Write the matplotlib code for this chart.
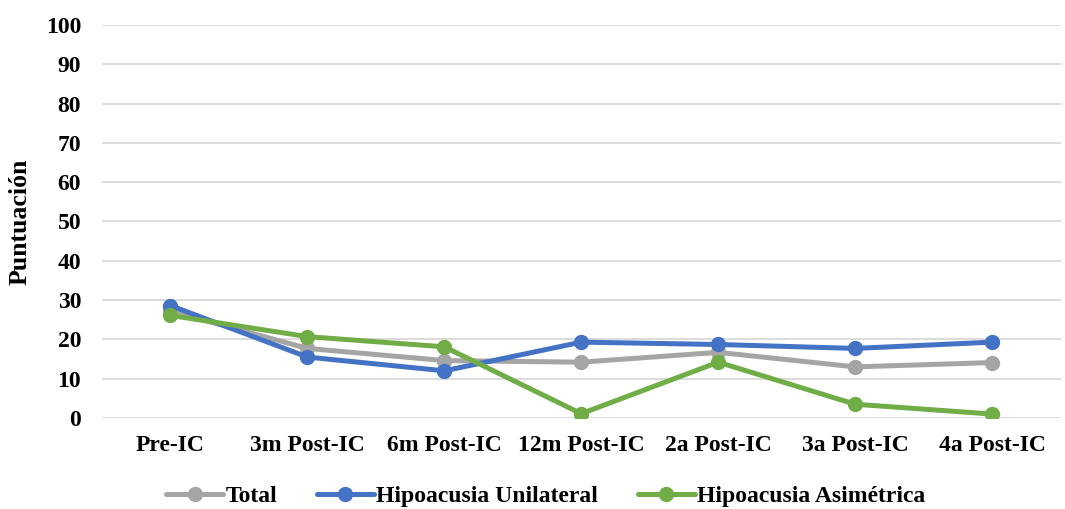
import matplotlib
matplotlib.use("Agg")
import matplotlib.pyplot as plt

categories = ["Pre-IC", "3m Post-IC", "6m Post-IC", "12m Post-IC",
              "2a Post-IC", "3a Post-IC", "4a Post-IC"]
total = [27.2, 17.7, 14.6, 14.2, 16.7, 13.0, 14.1]
unilateral = [28.6, 15.5, 12.0, 19.3, 18.7, 17.7, 19.3]
asimetrica = [26.1, 20.7, 18.1, 1.1, 14.2, 3.5, 1.0]

series = [
    ("Total", total, "#A5A5A5"),
    ("Hipoacusia Unilateral", unilateral, "#4472C4"),
    ("Hipoacusia Asimétrica", asimetrica, "#70AD47"),
]

plt.rcParams["font.family"] = ["Liberation Serif", "DejaVu Serif"]
plt.rcParams["font.weight"] = "bold"

fig = plt.figure(figsize=(10.65, 5.09), dpi=100)
ax = fig.add_axes([0.0958, 0.1788, 0.9, 0.7722])

x = list(range(len(categories)))
for name, vals, color in series:
    ax.plot(x, vals, color=color, linewidth=3.6, marker="o", markersize=10,
            label=name, solid_capstyle="round", zorder=3)

ax.set_xlim(-0.5, len(categories) - 0.5)
ax.set_ylim(0, 100)
ax.set_yticks(range(0, 101, 10))
ax.set_xticks(x)
ax.set_xticklabels(categories, fontsize=17, fontweight="bold")
for lbl in ax.get_yticklabels():
    lbl.set_fontsize(17)
    lbl.set_fontweight("bold")
ax.tick_params(axis="both", length=0)
ax.tick_params(axis="y", pad=15)
ax.tick_params(axis="x", pad=12)
ax.grid(axis="y", color="#D9D9D9", linewidth=1.3, zorder=0)
for s in ax.spines.values():
    s.set_visible(False)
ax.set_ylabel("Puntuación", fontsize=18.5, fontweight="bold", labelpad=10)

ax.legend(loc="center", bbox_to_anchor=(0.463, -0.2), ncol=3, frameon=False,
          prop={"weight": "bold", "size": 17},
          handlelength=2.4, handletextpad=0.1, columnspacing=1.7)

fig.savefig("out.png", dpi=100)
